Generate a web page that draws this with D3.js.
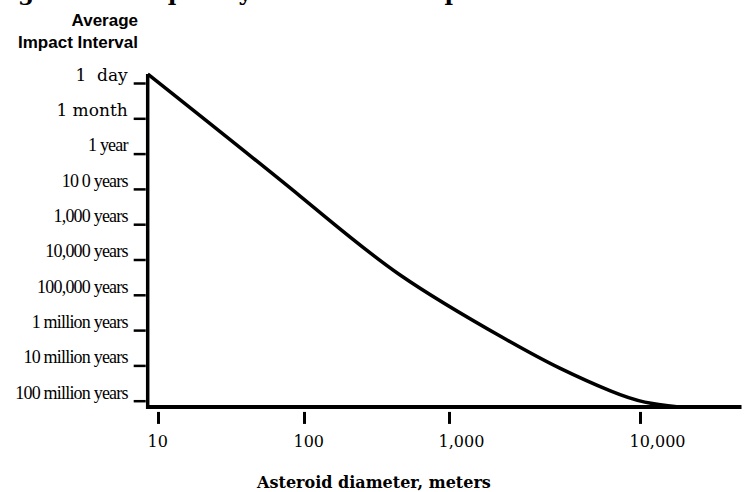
<!DOCTYPE html>
<html>
<head>
<meta charset="utf-8">
<script src="https://cdn.jsdelivr.net/npm/d3@7"></script>
<style>
  body { margin: 0; background: #fff; }
  svg { display: block; }
</style>
</head>
<body>
<div class="chartArea"></div>
<script>
// x axis: asteroid diameter in meters
const diameterTicks = [10, 100, 1000, 10000]
const diameterLabels = ['10', '100', '1,000', '10,000']
const diameterExtent = [8.5, 34000]

// y axis: average impact interval in years
const intervalTicks = [1 / 365, 1 / 12, 1, 100, 1e3, 1e4, 1e5, 1e6, 1e7, 1e8]
const intervalLabels = ['1\u00a0\u00a0day', '1\u00a0month', '1 year', '10 0 years', '1,000 years',
  '10,000 years', '100,000 years', '1 million years', '10 million years', '100 million years']
const intervalExtent = [0.00115, 1.5e8]

// the curve
const curveDiameter = [8.5, 94, 460, 1900, 3800, 7000, 10600, 16000]
const curveInterval = [0.00115, 160, 27500, 1.6e6, 1.2e7, 5.3e7, 1.1e8, 1.5e8]

const width = 748,
    height = 492

const svg = d3.select('.chartArea')
    .append('svg')
    .attr('width', width)
    .attr('height', height)

// the original axes are hand drawn, so the ticks are not evenly spaced in log:
// piecewise log scales put every tick where the picture has it
const xScale = d3.scaleLog()
    .domain(diameterTicks)
    .range([158, 304, 449, 640])

const yScale = d3.scaleLog()
    .domain(intervalTicks)
    .range(intervalTicks.map((d, i) => 83 + i * 35.3))

const x0 = xScale(diameterExtent[0]),
    x1 = xScale(diameterExtent[1]),
    yTop = yScale(intervalExtent[0]),
    y0 = yScale(intervalExtent[1])

// title, mostly above the visible area
svg.append('text')
    .attr('x', -7)
    .attr('y', 0)
    .style('font-family', '"DejaVu Serif", serif')
    .style('font-weight', 'bold')
    .style('font-size', '23px')
    .text('Figure 1. Frequency of Asteroid Impacts')

// y axis title
const yTitle = svg.append('text')
    .attr('text-anchor', 'end')
    .style('font-family', '"Liberation Sans", Arial, sans-serif')
    .style('font-weight', 'bold')
    .style('font-size', '17px')
yTitle.append('tspan').attr('x', 138).attr('y', 26).text('Average')
yTitle.append('tspan').attr('x', 138).attr('y', 48).text('Impact Interval')

// y axis ticks and labels
const yAxis = d3.axisLeft(yScale)
    .tickValues(intervalTicks)
    .tickFormat(d => intervalLabels[intervalTicks.indexOf(d)])
    .tickSize(12)
    .tickPadding(6)

const yG = svg.append('g')
    .attr('transform', `translate(${x0 - 2}, 0)`)
    .call(yAxis)
yG.select('.domain').remove()
yG.selectAll('.tick line').attr('stroke', '#000').attr('stroke-width', 2.5)
yG.selectAll('.tick text')
    .attr('fill', '#000')
    .attr('dy', '-0.15em')
    .style('font-family', (d, i) => i < 2 ? '"DejaVu Serif", serif' : '"Liberation Serif", serif')
    .style('font-size', (d, i) => i < 2 ? '17px' : '18px')
    .style('letter-spacing', (d, i) => i < 2 ? '0px' : '-0.8px')

// x axis ticks and labels
const xAxis = d3.axisBottom(xScale)
    .tickValues(diameterTicks)
    .tickFormat(d => diameterLabels[diameterTicks.indexOf(d)])
    .tickSize(12)

const xG = svg.append('g')
    .attr('transform', `translate(0, ${y0 + 5})`)
    .call(xAxis)
xG.select('.domain').remove()
xG.selectAll('.tick line').attr('stroke', '#000').attr('stroke-width', 3)
xG.selectAll('.tick text')
    .attr('fill', '#000')
    .attr('y', 35)
    .attr('dy', 0)
    .attr('dx', -11)
    .attr('text-anchor', 'start')
    .style('font-family', '"DejaVu Serif", serif')
    .style('font-size', '16px')

// x axis title
svg.append('text')
    .attr('x', 374)
    .attr('y', 488)
    .attr('text-anchor', 'middle')
    .style('font-family', '"DejaVu Serif", serif')
    .style('font-weight', 'bold')
    .style('font-size', '16px')
    .text('Asteroid diameter, meters')

// the thick axis lines
svg.append('line')
    .attr('x1', x0).attr('x2', x0)
    .attr('y1', yTop).attr('y2', y0 + 2)
    .attr('stroke', '#000')
    .attr('stroke-width', 3.5)

svg.append('line')
    .attr('x1', x0 - 1.5).attr('x2', x1)
    .attr('y1', y0).attr('y2', y0)
    .attr('stroke', '#000')
    .attr('stroke-width', 4)

// impact curve
const line = d3.line()
    .x(d => xScale(d[0]))
    .y(d => yScale(d[1]))
    .curve(d3.curveNatural)

svg.append('path')
    .datum(d3.zip(curveDiameter, curveInterval))
    .attr('d', line)
    .attr('fill', 'none')
    .attr('stroke', '#000')
    .attr('stroke-width', 3.5)
</script>
</body>
</html>
